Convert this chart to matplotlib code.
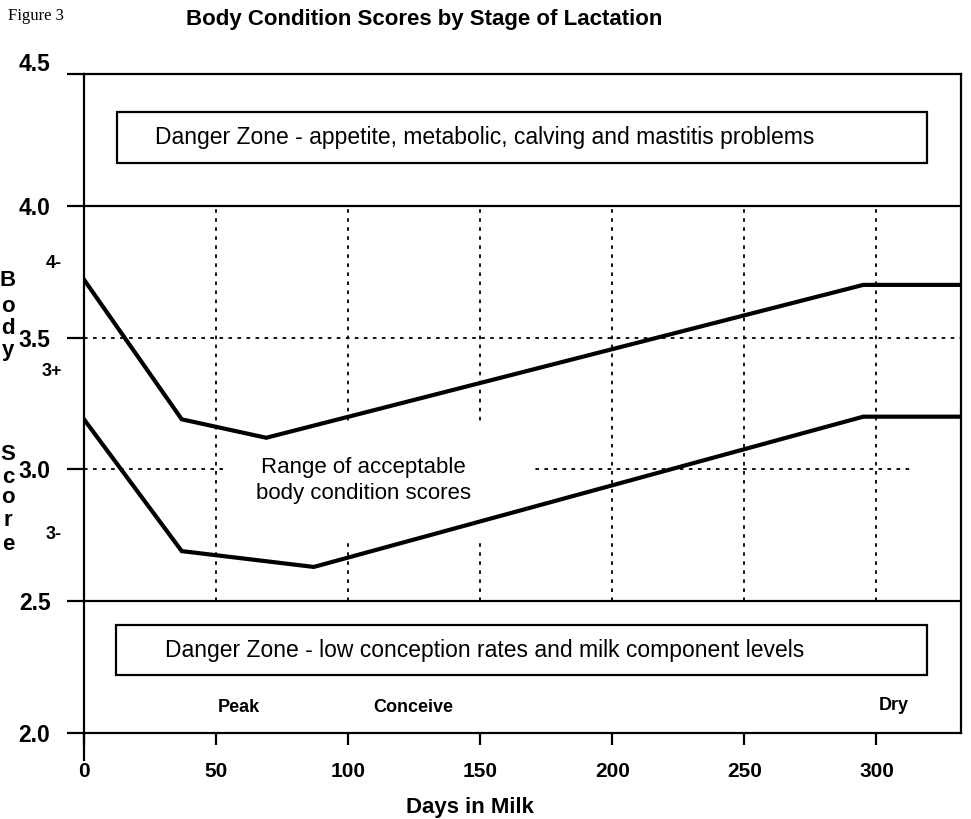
import matplotlib
matplotlib.use("Agg")
import matplotlib.pyplot as plt
from matplotlib.patches import Rectangle
from matplotlib.transforms import ScaledTranslation

plt.rcParams['font.family'] = ['Liberation Sans', 'DejaVu Sans']

# ---- data ----
days_upper = [0, 37, 69, 295, 332]
upper_bcs = [3.72, 3.19, 3.12, 3.70, 3.70]
days_lower = [0, 37, 87, 295, 332]
lower_bcs = [3.19, 2.69, 2.63, 3.20, 3.20]

x_ticks = [0, 50, 100, 150, 200, 250, 300]
x_tick_labels = ['0', '50', '100', '150', '200', '250', '300']
y_ticks = [2.0, 2.5, 3.0, 3.5, 4.0, 4.5]
y_tick_labels = ['2.0', '2.5', '3.0', '3.5', '4.0', '4.5']
minor_y = [3.79, 3.38, 2.76]
minor_y_labels = ['4-', '3+', '3-']

stage_days = [58.7, 124.6, 306.4]
stage_labels = ['Peak', 'Conceive', 'Dry']

zone_top = (4.163, 4.356)
zone_bottom = (2.22, 2.409)
acceptable = (2.5, 4.0)

W, H = 971, 819
fig = plt.figure(figsize=(W / 100, H / 100), dpi=100)
ax = fig.add_axes([84 / W, (H - 733) / H, 877 / W, 659 / H])
ax.set_xlim(0, 332)
ax.set_ylim(2.0, 4.5)

for s in ax.spines.values():
    s.set_linewidth(1.6)
    s.set_color('black')

# extension of left axis below the frame
ax.plot([0, 0], [2.0, 1.898], color='black', lw=1.6, clip_on=False)

# solid boundaries of acceptable range
ax.hlines(acceptable, 0, 332, colors='black', lw=1.6, zorder=2)

# dotted grid inside acceptable range
dot = (0, (2, 3))
ax.vlines(x_ticks[1:], acceptable[0], acceptable[1], colors='black', lw=1.3,
          linestyles=[dot], zorder=1)
ax.hlines(3.5, 0, 332, colors='black', lw=1.3, linestyles=[dot], zorder=1)
ax.hlines(3.0, 0, 313, colors='black', lw=1.3, linestyles=[dot], zorder=1)

# white area behind the label
ax.add_patch(Rectangle((53.4, 2.73), 115.6, 0.45, facecolor='white',
                       edgecolor='none', zorder=1.5))

# curves
ax.plot(days_upper, upper_bcs, color='black', lw=3.0, zorder=3,
        solid_joinstyle='miter')
ax.plot(days_lower, lower_bcs, color='black', lw=3.0, zorder=3,
        solid_joinstyle='miter')

ax.text(105.7, 2.958, 'Range of acceptable\nbody condition scores', ha='center',
        va='center', fontsize=16, linespacing=1.3, zorder=4)

# danger zone boxes
ax.add_patch(Rectangle((12.5, zone_top[0]), 306.8, zone_top[1] - zone_top[0],
                       facecolor='white', edgecolor='black', lw=1.6, zorder=2))
ax.text(26.9, (zone_top[0] + zone_top[1]) / 2,
        'Danger Zone - appetite, metabolic, calving and mastitis problems',
        ha='left', va='center', fontsize=16.5, zorder=4)
ax.add_patch(Rectangle((12.1, zone_bottom[0]), 307.2, zone_bottom[1] - zone_bottom[0],
                       facecolor='white', edgecolor='black', lw=1.6, zorder=2))
ax.text(30.7, (zone_bottom[0] + zone_bottom[1]) / 2,
        'Danger Zone - low conception rates and milk component levels',
        ha='left', va='center', fontsize=16.5, zorder=4)

# stage labels
for d, lab, yy in zip(stage_days, stage_labels, [2.095, 2.095, 2.106]):
    ax.text(d, yy, lab, ha='center', va='center', fontsize=13,
            fontweight='bold')

# ticks
ax.set_xticks(x_ticks, x_tick_labels, fontsize=15, fontweight='bold')
ax.tick_params(axis='x', direction='out', length=8.6, width=1.6, pad=12)
ax.set_yticks(y_ticks, y_tick_labels, fontsize=16.5, fontweight='bold')
ax.tick_params(axis='y', which='major', direction='out', length=12.2,
               width=1.6, pad=12)
ax.set_yticks(minor_y, minor_y_labels, minor=True, fontsize=13,
              fontweight='bold')
ax.tick_params(axis='y', which='minor', length=0, pad=16)
ax.tick_params(axis='x', which='minor', length=0)

# shift the 4.5 label up a bit
lab45 = ax.get_yticklabels()[-1]
lab45.set_transform(lab45.get_transform() + ScaledTranslation(0, 12 / 100, fig.dpi_scale_trans))

ax.set_xlabel('Days in Milk', fontsize=16, fontweight='bold', x=0.44,
              labelpad=12)

# vertical stacked axis title
for ch, yy in zip('Body', [280, 307, 328, 350]):
    fig.text(8 / W, 1 - yy / H, ch, ha='center', va='center', fontsize=16,
             fontweight='bold')
for ch, yy in zip('Score', [455, 477, 498, 520, 545]):
    fig.text(8 / W, 1 - yy / H, ch, ha='center', va='center', fontsize=16,
             fontweight='bold')

fig.text(186 / W, 1 - 19 / H, 'Body Condition Scores by Stage of Lactation',
         ha='left', va='center', fontsize=16, fontweight='bold')
fig.text(8 / W, 1 - 16 / H, 'Figure 3', ha='left', va='center', fontsize=12,
         family=['Liberation Serif', 'DejaVu Serif'])

fig.savefig('out.png', dpi=100)
